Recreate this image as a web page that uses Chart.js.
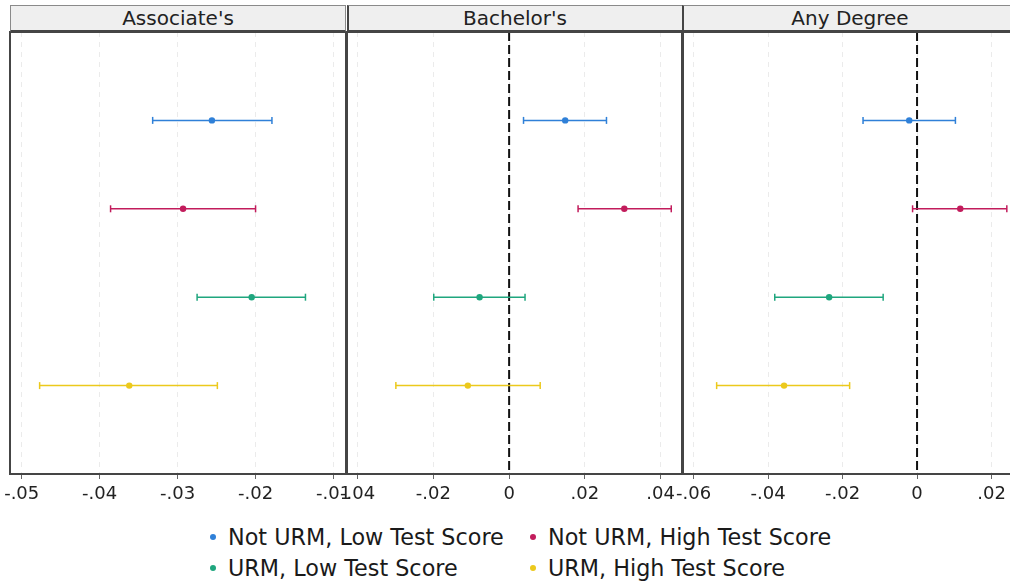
<!DOCTYPE html>
<html>
<head>
<meta charset="utf-8">
<script src="https://cdn.jsdelivr.net/npm/chart.js@4/dist/chart.umd.min.js"></script>
<style>
  html, body { margin:0; padding:0; background:#ffffff; }
  body { width:1010px; height:584px; overflow:hidden; position:relative; font-family:"DejaVu Sans", sans-serif; }
  .panel { position:absolute; top:0; height:506px; }
  .panel canvas { display:block; }
  .strip { position:absolute; top:5px; height:27px; box-sizing:border-box; background:#efefef;
           border:1px solid #8a8a8a; border-bottom:2px solid #454545;
           font-size:20px; color:#222; text-align:center; line-height:25px; z-index:5; }
  .leg { position:absolute; font-size:22.3px; color:#1a1a1a; white-space:nowrap; line-height:26px; }
  .dot { position:absolute; width:6px; height:6px; border-radius:50%; }
</style>
</head>
<body>
<script>
// ---- data ----
const categories = ["Not URM, Low Test Score", "Not URM, High Test Score", "URM, Low Test Score", "URM, High Test Score"];
const panelTitles = ["Associate's", "Bachelor's", "Any Degree"];
const colors = ["#2f80d8", "#c21c5c", "#1fa67e", "#ecc91c"];

const assocEst = [-0.0256, -0.0293, -0.0205, -0.0362];
const assocLo  = [-0.0332, -0.0386, -0.0275, -0.0477];
const assocHi  = [-0.0179, -0.0200, -0.0136, -0.0249];

const bachEst = [0.0148, 0.0304, -0.0078, -0.0109];
const bachLo  = [0.0038, 0.0182, -0.0199, -0.0299];
const bachHi  = [0.0257, 0.0428, 0.0042, 0.0082];

const anyEst = [-0.0021, 0.0116, -0.0236, -0.0357];
const anyLo  = [-0.0145, -0.0012, -0.0382, -0.0538];
const anyHi  = [0.0103, 0.0241, -0.0091, -0.0181];

const assocTicks = [-0.05, -0.04, -0.03, -0.02, -0.01];
const bachTicks  = [-0.04, -0.02, 0, 0.02, 0.04];
const anyTicks   = [-0.06, -0.04, -0.02, 0, 0.02];

const assocRange = [-0.0515, -0.0084];
const bachRange  = [-0.0428, 0.0459];
const anyRange   = [-0.0631, 0.0271];

const refLines = [null, 0, 0];

// ---- layout ----
const panelLeft = [10, 346.5, 681.5];
const panelWidth = 336;
const padSide = 40;

const panels = [
  {est: assocEst, lo: assocLo, hi: assocHi, ticks: assocTicks, range: assocRange},
  {est: bachEst,  lo: bachLo,  hi: bachHi,  ticks: bachTicks,  range: bachRange},
  {est: anyEst,   lo: anyLo,   hi: anyHi,   ticks: anyTicks,   range: anyRange}
];

function fmt(v) {
  if (Math.abs(v) < 1e-12) return "0";
  return (v < 0 ? "-" : "") + Math.abs(v).toFixed(2).replace(/^0/, "");
}

const framePlugin = {
  id: 'frame',
  afterDraw(chart) {
    const a = chart.chartArea, ctx = chart.ctx;
    ctx.save();
    ctx.strokeStyle = '#454545';
    ctx.lineWidth = 2;
    ctx.strokeRect(a.left, a.top, a.right - a.left, a.bottom - a.top);
    ctx.restore();
  }
};

panels.forEach((p, k) => {
  const div = document.createElement('div');
  div.className = 'panel';
  div.style.left = (panelLeft[k] - padSide) + 'px';
  div.style.width = (panelWidth + 2 * padSide) + 'px';
  const cv = document.createElement('canvas');
  div.appendChild(cv);
  document.body.appendChild(div);

  const strip = document.createElement('div');
  strip.className = 'strip';
  strip.style.left = panelLeft[k] + 'px';
  strip.style.width = panelWidth + 'px';
  strip.textContent = panelTitles[k];
  if (k > 0) strip.style.borderLeft = '2px solid #454545';
  document.body.appendChild(strip);

  const datasets = [];
  if (refLines[k] !== null) {
    datasets.push({
      type: 'line', label: 'ref',
      data: [{x: refLines[k], y: 0}, {x: refLines[k], y: 5}],
      borderColor: '#111', borderWidth: 2, borderDash: [9, 4],
      pointRadius: 0, showLine: true, clip: false, order: 10
    });
  }
  categories.forEach((c, i) => {
    datasets.push({
      type: 'line', label: c + ' CI',
      data: [{x: p.lo[i], y: i + 1}, {x: p.hi[i], y: i + 1}],
      borderColor: colors[i], borderWidth: 1.5,
      pointStyle: 'line', pointRotation: 90, pointRadius: 3.5,
      pointBorderColor: colors[i], pointBorderWidth: 1.5,
      showLine: true, order: 2
    });
    datasets.push({
      type: 'scatter', label: c,
      data: [{x: p.est[i], y: i + 1}],
      backgroundColor: colors[i], borderColor: colors[i],
      pointRadius: 3.2, pointBorderWidth: 0, order: 1
    });
  });

  new Chart(cv, {
    type: 'scatter',
    data: { datasets },
    options: {
      responsive: true, maintainAspectRatio: false, animation: false,
      events: [],
      layout: { padding: { left: padSide, right: padSide, top: 32, bottom: 0 } },
      plugins: { legend: { display: false }, tooltip: { enabled: false } },
      scales: {
        x: {
          type: 'linear', min: p.range[0], max: p.range[1],
          afterBuildTicks: (s) => { s.ticks = p.ticks.map(v => ({value: v})); },
          afterFit: (s) => { s.height = 32; },
          grid: { color: 'rgba(0,0,0,0.08)', lineWidth: 1, tickLength: 5,
                  tickColor: '#666', tickWidth: 1, tickBorderDash: [] },
          border: { display: false, dash: [5, 5] },
          ticks: { callback: (v) => fmt(v), color: '#222', padding: 5,
                   maxRotation: 0, autoSkip: false,
                   font: { family: 'DejaVu Sans', size: 18 } }
        },
        y: { type: 'linear', min: 0, max: 5, reverse: true, display: false }
      }
    },
    plugins: [framePlugin]
  });
});

// ---- legend ----
const legPos = [[213, 537], [533, 537], [213, 568], [533, 568]];
categories.forEach((c, i) => {
  const d = document.createElement('div');
  d.className = 'dot';
  d.style.background = colors[i];
  d.style.left = (legPos[i][0] - 3) + 'px';
  d.style.top = (legPos[i][1] - 3) + 'px';
  document.body.appendChild(d);
  const t = document.createElement('div');
  t.className = 'leg';
  t.textContent = c;
  t.style.left = (legPos[i][0] + 15) + 'px';
  t.style.top = (legPos[i][1] - 13) + 'px';
  document.body.appendChild(t);
});
</script>
</body>
</html>
